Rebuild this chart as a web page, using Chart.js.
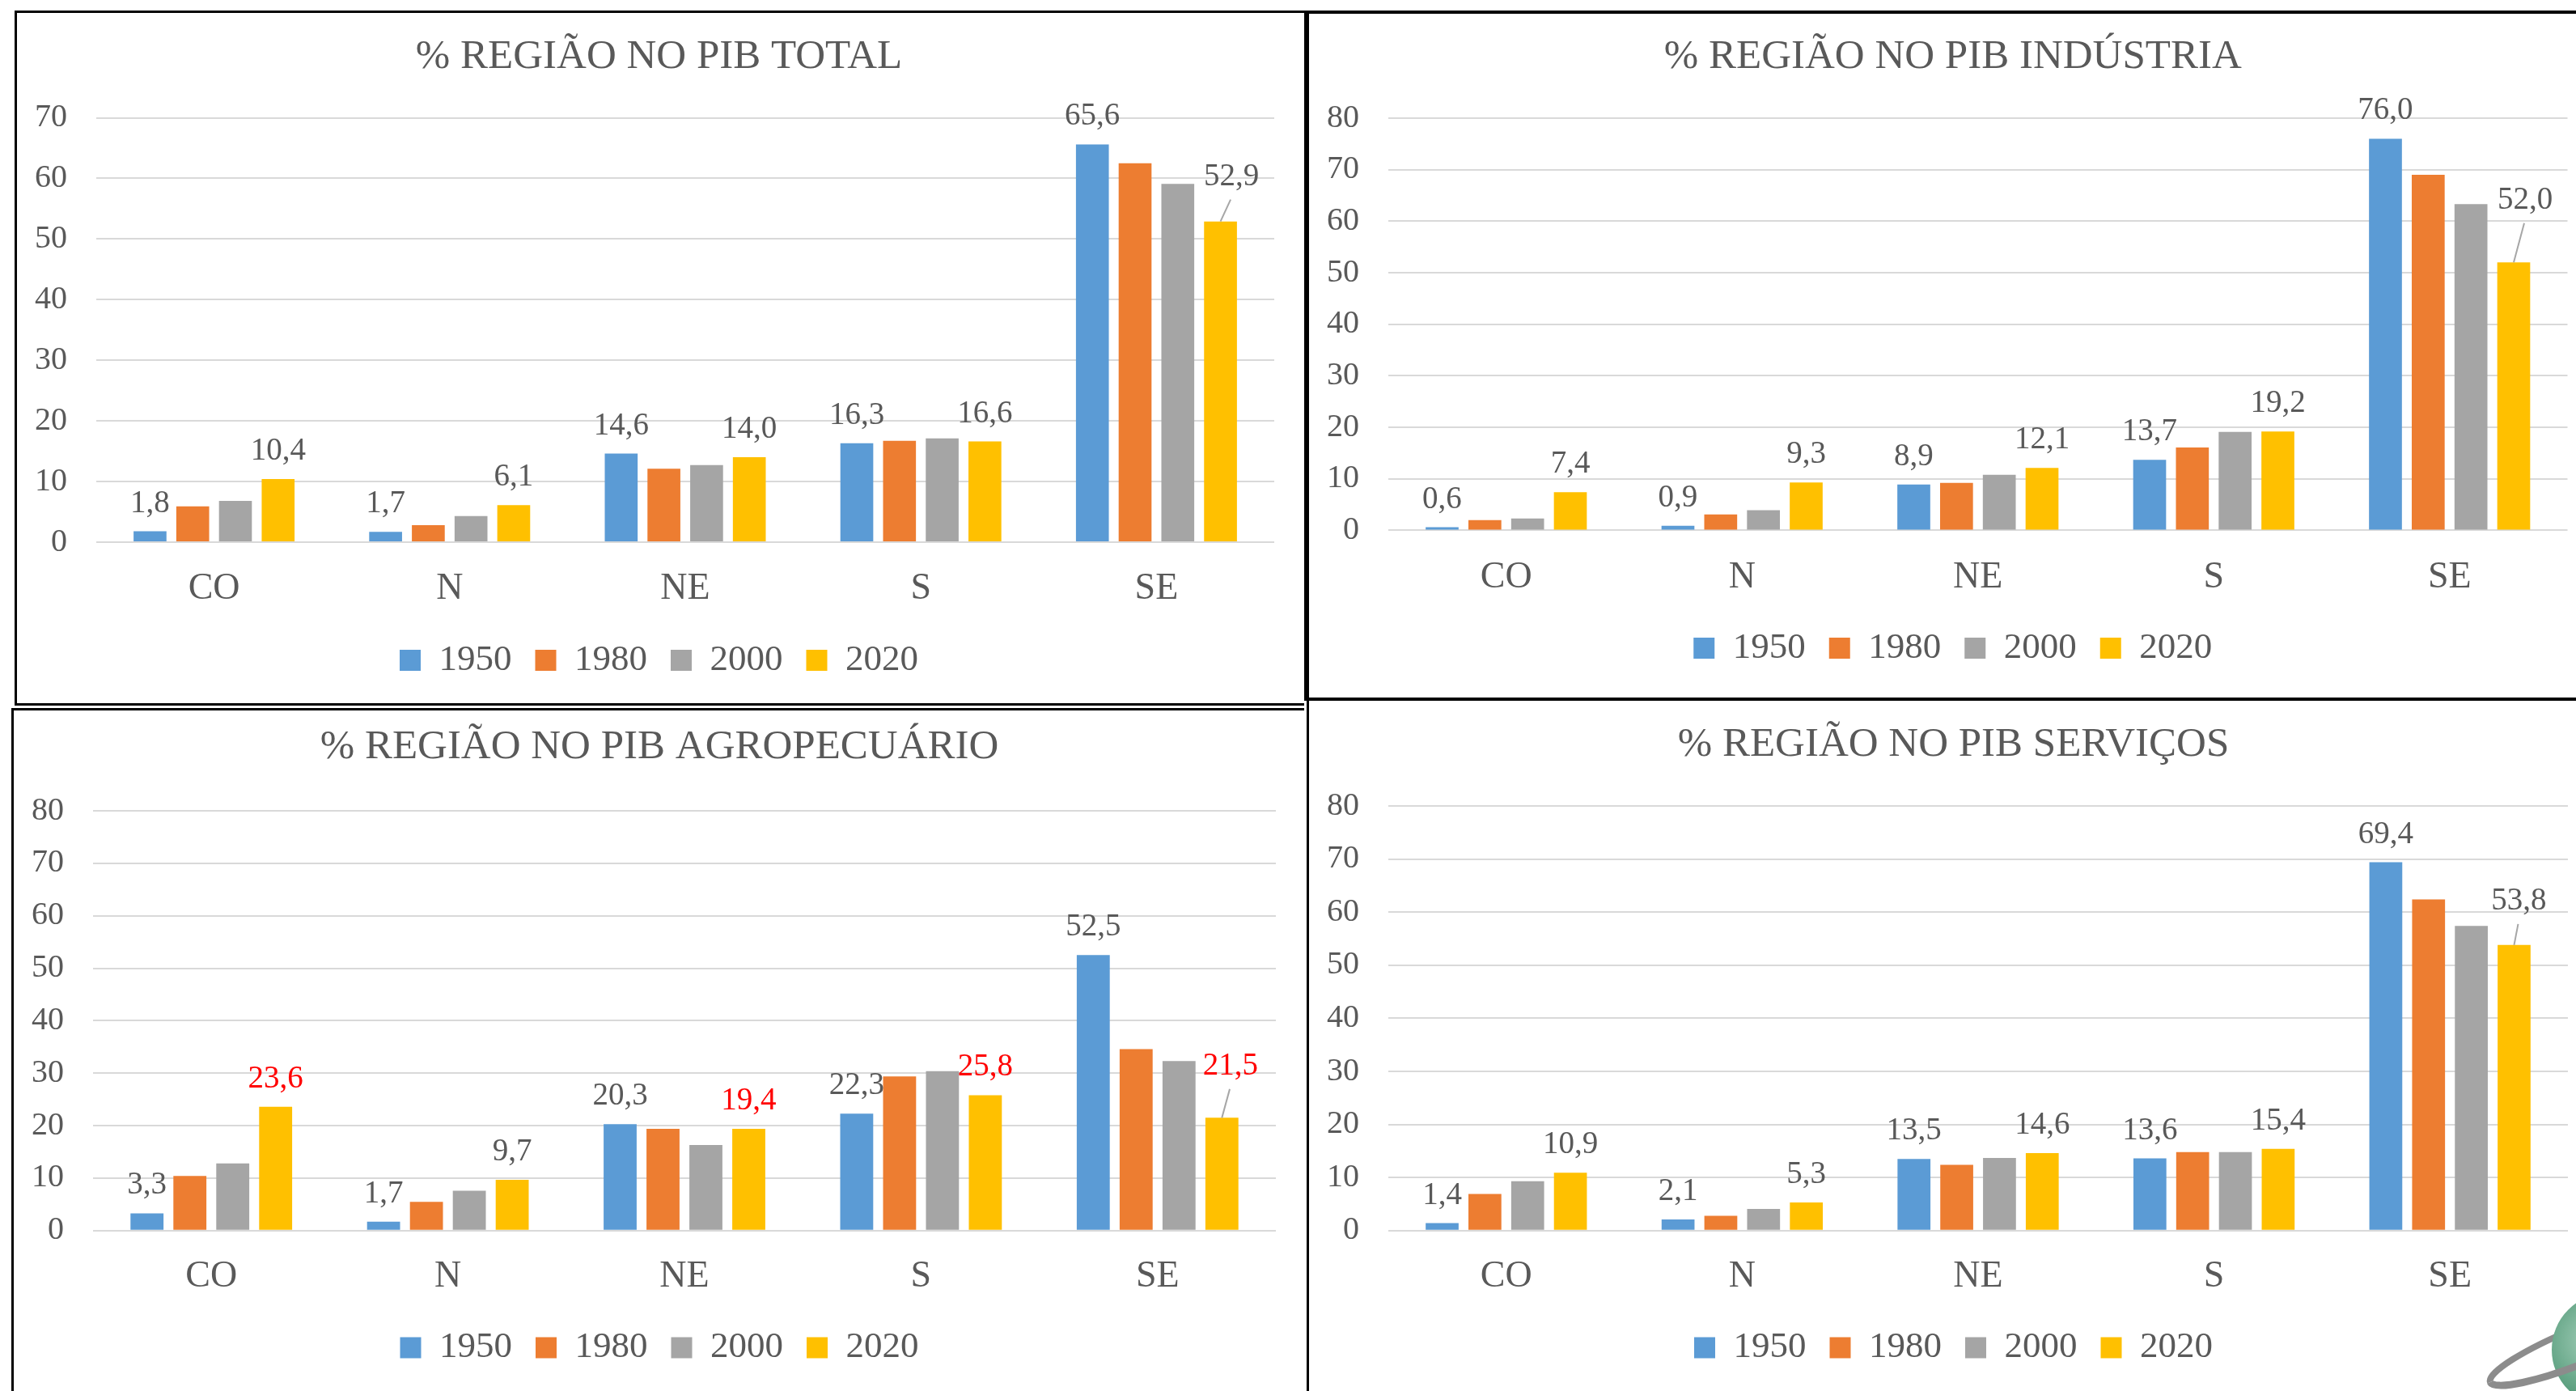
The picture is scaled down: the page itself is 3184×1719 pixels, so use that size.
<!DOCTYPE html>
<html lang="pt-BR">
<head>
<meta charset="utf-8">
<title>Participação regional no PIB</title>
<script src="https://cdn.jsdelivr.net/npm/chart.js@4.4.1/dist/chart.umd.min.js"></script>
<style>
  html, body { margin: 0; padding: 0; width: 3184px; height: 1719px; overflow: hidden; background: #fff; }
  canvas { position: absolute; display: block; }
  .rule { position: absolute; background: #000; }
  #logo { position: absolute; left: 0; top: 0; }
</style>
</head>
<body>
<canvas id="pibTotal"></canvas>
<canvas id="pibIndustria"></canvas>
<canvas id="pibAgro"></canvas>
<canvas id="pibServicos"></canvas>

<!-- frame lines around the four panels -->
<div class="rule" style="left:18px;top:13px;width:1600px;height:3px"></div>
<div class="rule" style="left:1612px;top:13px;width:1572px;height:4px"></div>
<div class="rule" style="left:18px;top:13px;width:3px;height:859px"></div>
<div class="rule" style="left:1612px;top:13px;width:6px;height:853px"></div>
<div class="rule" style="left:1615px;top:862px;width:3px;height:857px"></div>
<div class="rule" style="left:18px;top:869px;width:1594px;height:3px"></div>
<div class="rule" style="left:14px;top:875px;width:1598px;height:3px"></div>
<div class="rule" style="left:14px;top:875px;width:3px;height:844px"></div>
<div class="rule" style="left:1612px;top:862px;width:1572px;height:4px"></div>

<svg id="logo" width="3184" height="1719" viewBox="0 0 3184 1719">
  <defs>
    <radialGradient id="globe" cx="0.38" cy="0.42" r="0.7">
      <stop offset="0" stop-color="#a6d0bb"/>
      <stop offset="0.55" stop-color="#6aa98b"/>
      <stop offset="1" stop-color="#3f8a67"/>
    </radialGradient>
  </defs>
  <path d="M 3078 1708 A 125 22 -22 0 1 3310 1614" fill="none" stroke="#8c8c8c" stroke-width="8"/>
  <circle cx="3224" cy="1668" r="70" fill="url(#globe)"/>
  <path d="M 3078 1708 A 125 22 -22 0 0 3310 1614" fill="none" stroke="#8c8c8c" stroke-width="9"/>
</svg>

<script>
const FONT = "'Liberation Serif', 'Times New Roman', serif";
const TEXT_COLOR = '#595959';

// categories and series
const regions = ['CO', 'N', 'NE', 'S', 'SE'];
const years = ['1950', '1980', '2000', '2020'];
const seriesColors = ['#5B9BD5', '#ED7D31', '#A5A5A5', '#FFC000'];

// % da região no PIB total
const total1950 = [1.8, 1.7, 14.6, 16.3, 65.6];
const total1980 = [5.9, 2.8, 12.1, 16.7, 62.5];
const total2000 = [6.8, 4.3, 12.7, 17.1, 59.1];
const total2020 = [10.4, 6.1, 14.0, 16.6, 52.9];

// % da região no PIB da indústria
const industria1950 = [0.6, 0.9, 8.9, 13.7, 76.0];
const industria1980 = [2.0, 3.1, 9.2, 16.1, 69.0];
const industria2000 = [2.3, 3.9, 10.8, 19.1, 63.3];
const industria2020 = [7.4, 9.3, 12.1, 19.2, 52.0];

// % da região no PIB agropecuário
const agro1950 = [3.3, 1.7, 20.3, 22.3, 52.5];
const agro1980 = [10.4, 5.5, 19.4, 29.4, 34.6];
const agro2000 = [12.8, 7.6, 16.3, 30.4, 32.3];
const agro2020 = [23.6, 9.7, 19.4, 25.8, 21.5];

// % da região no PIB de serviços
const servicos1950 = [1.4, 2.1, 13.5, 13.6, 69.4];
const servicos1980 = [6.9, 2.8, 12.4, 14.8, 62.4];
const servicos2000 = [9.3, 4.1, 13.7, 14.8, 57.4];
const servicos2020 = [10.9, 5.3, 14.6, 15.4, 53.8];

// value axis tick range
const yMaxTotal = 70;
const yMaxSetor = 80;
const yStep = 10;

// series that carry value labels (1950 and 2020)
const labeledSeries = [0, 3];

// highlighted 2020 labels in the agro panel
const RED = '#FF0000';
const agroLabelColors2020 = [RED, TEXT_COLOR, RED, RED, RED];

const fmt = v => v.toFixed(1).replace('.', ',');

// draws the numeric labels above the 1950 and 2020 bars; the last SE label uses a leader line
const valueLabels = {
  id: 'valueLabels',
  afterDatasetsDraw(chart, args, opts) {
    const ctx = chart.ctx;
    ctx.save();
    ctx.font = `${opts.size}px ${FONT}`;
    ctx.textAlign = 'center';
    opts.series.forEach(di => {
      const ds = chart.data.datasets[di];
      const meta = chart.getDatasetMeta(di);
      meta.data.forEach((bar, i) => {
        const text = fmt(ds.data[i]);
        const colors = opts.colors && opts.colors[di];
        ctx.fillStyle = (colors && colors[i]) || opts.color;
        const lead = opts.leader;
        if (lead && di === lead.series && i === lead.index) {
          const lx = bar.x + lead.dx;
          const ly = bar.y + lead.dy;
          ctx.strokeStyle = '#A6A6A6';
          ctx.lineWidth = 2;
          ctx.beginPath();
          ctx.moveTo(lx - 1, ly + 28);
          ctx.lineTo(bar.x, bar.y);
          ctx.stroke();
          ctx.textBaseline = 'middle';
          ctx.fillText(text, lx, ly);
        } else {
          ctx.textBaseline = 'alphabetic';
          ctx.fillText(text, bar.x, bar.y - 24);
        }
      });
    });
    ctx.restore();
  }
};

// the value axis is kept narrow so the title and legend centre on the panel;
// let its tick labels use the space to its left
const wideTickArea = {
  id: 'wideTickArea',
  afterLayout(chart) {
    chart.scales.y.left = 0;
  }
};

const panels = [
  {
    id: 'pibTotal', title: '% REGIÃO NO PIB TOTAL',
    values: [total1950, total1980, total2000, total2020], yMax: yMaxTotal,
    box: {left: 21, top: 16, width: 1591, height: 853},
    titlePad: {top: 24, bottom: 44.3}, xTick: {len: 21.5, pad: 8.9},
    pad: {left: 33, bottom: 20.5, right: 37},
    leader: {series: 3, index: 4, dx: 13.5, dy: -55}
  },
  {
    id: 'pibIndustria', title: '% REGIÃO NO PIB INDÚSTRIA',
    values: [industria1950, industria1980, industria2000, industria2020], yMax: yMaxSetor,
    box: {left: 1618, top: 17, width: 1591, height: 845},
    titlePad: {top: 23, bottom: 44.8}, xTick: {len: 22.7, pad: 8.1},
    pad: {left: 36, bottom: 28.5, right: 35.5},
    leader: {series: 3, index: 4, dx: 14, dy: -76.5}
  },
  {
    id: 'pibAgro', title: '% REGIÃO NO PIB AGROPECUÁRIO',
    values: [agro1950, agro1980, agro2000, agro2020], yMax: yMaxSetor,
    box: {left: 17, top: 878, width: 1598, height: 841},
    titlePad: {top: 15, bottom: 47.8}, xTick: {len: 20.8, pad: 8.6},
    pad: {left: 36, bottom: 21, right: 38},
    leader: {series: 3, index: 4, dx: 10.7, dy: -63.5},
    labelColors: {3: agroLabelColors2020}
  },
  {
    id: 'pibServicos', title: '% REGIÃO NO PIB SERVIÇOS',
    values: [servicos1950, servicos1980, servicos2000, servicos2020], yMax: yMaxSetor,
    box: {left: 1618, top: 866, width: 1591, height: 853},
    titlePad: {top: 24, bottom: 44.8}, xTick: {len: 20.8, pad: 8.6},
    pad: {left: 37, bottom: 21, right: 35},
    leader: {series: 3, index: 4, dx: 6, dy: -54}
  }
];

// left edge of the plot area, measured from the canvas edge
const PLOT_LEFT = 98;

function buildChart(p) {
  const canvas = document.getElementById(p.id);
  canvas.width = p.box.width;
  canvas.height = p.box.height;
  canvas.style.left = p.box.left + 'px';
  canvas.style.top = p.box.top + 'px';
  canvas.style.width = p.box.width + 'px';
  canvas.style.height = p.box.height + 'px';

  return new Chart(canvas, {
    type: 'bar',
    data: {
      labels: regions,
      datasets: years.map((yr, k) => ({
        label: yr,
        data: p.values[k],
        backgroundColor: seriesColors[k],
        borderWidth: 0,
        categoryPercentage: 0.725,
        barPercentage: 0.77
      }))
    },
    options: {
      responsive: false,
      maintainAspectRatio: false,
      animation: false,
      devicePixelRatio: 1,
      layout: {padding: {top: 0, left: p.pad.left, right: p.pad.right, bottom: p.pad.bottom}},
      scales: {
        x: {
          grid: {display: true, drawOnChartArea: false, color: 'rgba(0,0,0,0)',
                 drawTicks: true, tickLength: p.xTick.len, tickColor: 'rgba(0,0,0,0)'},
          border: {display: false},
          ticks: {padding: p.xTick.pad, color: TEXT_COLOR, maxRotation: 0,
                  font: {family: FONT, size: 46}}
        },
        y: {
          min: 0, max: p.yMax,
          grid: {color: '#D9D9D9', lineWidth: 2, drawTicks: true, tickLength: 26,
                 tickColor: 'rgba(0,0,0,0)'},
          border: {display: false},
          ticks: {stepSize: yStep, padding: 10, color: TEXT_COLOR,
                  font: {family: FONT, size: 40}},
          afterFit(scale) { scale.width = PLOT_LEFT - p.pad.left; }
        }
      },
      plugins: {
        title: {
          display: true, text: p.title, color: TEXT_COLOR,
          font: {family: FONT, size: 51, weight: 'normal'},
          padding: p.titlePad
        },
        legend: {
          position: 'bottom',
          labels: {boxWidth: 26, boxHeight: 26, padding: 29, color: TEXT_COLOR,
                   font: {family: FONT, size: 45}}
        },
        tooltip: {enabled: false},
        valueLabels: {
          series: labeledSeries, size: 39, color: TEXT_COLOR,
          colors: p.labelColors || null, leader: p.leader
        }
      }
    },
    plugins: [wideTickArea, valueLabels]
  });
}

panels.forEach(buildChart);
</script>
</body>
</html>
